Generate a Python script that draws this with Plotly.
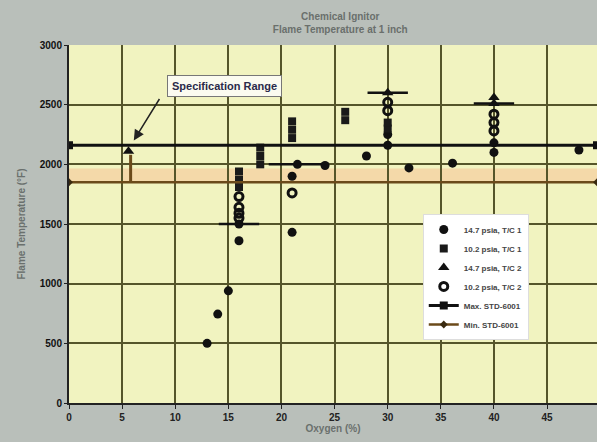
import plotly.graph_objects as go

# ---- data ----
c1_x = [13, 14, 15, 16, 16, 21, 21, 21.5, 24.1, 28, 30, 30, 32, 36.1, 40, 40, 48]
c1_y = [500, 745, 940, 1360, 1500, 1430, 1900, 2000, 1990, 2070, 2160, 2250, 1970, 2010, 2100, 2180, 2120]
c1_ex = [0, 0, 0, 0, 1.9, 0, 0, 2.7, 0, 0, 0, 0, 0, 0, 0, 0, 0]

s1_x = [16, 16, 16, 18, 18, 18, 21, 21, 21, 26, 26, 16.6, 30, 30]
s1_y = [1940, 1870, 1810, 2140, 2070, 2000, 2360, 2290, 2220, 2440, 2370, 3060, 2300, 2350]

t2_x = [5.6, 30, 40, 40]
t2_y = [2110, 2600, 2560, 2510]
t2_ex = [0, 1.9, 0, 1.9]

o2_x = [16, 16, 16, 16, 21, 30, 30, 40, 40, 40]
o2_y = [1730, 1640, 1590, 1550, 1760, 2450, 2520, 2420, 2350, 2280]

x_range = [0, 49.7]
max_std = 2160
min_std = 1850
spec_band = [1850, 1965]

x_ticks = [0, 5, 10, 15, 20, 25, 30, 35, 40, 45]
y_ticks = [0, 500, 1000, 1500, 2000, 2500, 3000]

fig = go.Figure()

fig.add_trace(go.Scatter(x=c1_x, y=c1_y, mode="markers", name="14.7 psia, T/C 1",
                         marker=dict(symbol="circle", size=9, color="#111111"),
                         error_x=dict(type="data", array=c1_ex, color="#111111", thickness=2.5, width=0),
                         cliponaxis=False))
fig.add_trace(go.Scatter(x=s1_x, y=s1_y, mode="markers", name="10.2 psia, T/C 1",
                         marker=dict(symbol="square", size=8, color="#1a1a1a"),
                         cliponaxis=False))
fig.add_trace(go.Scatter(x=t2_x, y=t2_y, mode="markers", name="14.7 psia, T/C 2",
                         marker=dict(symbol="triangle-up", size=10, color="#111111"),
                         error_x=dict(type="data", array=t2_ex, color="#111111", thickness=2.5, width=0),
                         cliponaxis=False))
fig.add_trace(go.Scatter(x=o2_x, y=o2_y, mode="markers", name="10.2 psia, T/C 2",
                         marker=dict(symbol="circle-open", size=8, color="#111111", line=dict(width=3)),
                         cliponaxis=False))
fig.add_trace(go.Scatter(x=x_range, y=[max_std, max_std], mode="lines+markers", name="Max. STD-6001",
                         line=dict(color="#111111", width=3),
                         marker=dict(symbol="square", size=8, color="#111111")))
fig.add_trace(go.Scatter(x=x_range, y=[min_std, min_std], mode="lines+markers", name="Min. STD-6001",
                         line=dict(color="#6b4a1a", width=2.5),
                         marker=dict(symbol="diamond", size=6, color="#3a2a10")))

fig.add_shape(type="rect", xref="x", yref="y", x0=x_range[0], x1=x_range[1],
              y0=spec_band[0], y1=spec_band[1], fillcolor="rgba(245,195,150,0.55)",
              line=dict(width=0), layer="below")
fig.add_shape(type="line", xref="x", yref="y", x0=5.8, x1=5.8, y0=min_std, y1=2080,
              line=dict(color="#6b4a1a", width=3))

fig.add_annotation(x=6.1, y=2200, ax=8.6, ay=2560, xref="x", yref="y", axref="x", ayref="y",
                   text="", showarrow=True, arrowhead=2, arrowsize=1.4, arrowwidth=1.5,
                   arrowcolor="#222222")
fig.add_annotation(x=14.6, y=2660, xref="x", yref="y", text="<b>Specification Range</b>",
                   showarrow=False, bgcolor="#fbfbf0", bordercolor="#777777", borderwidth=1,
                   borderpad=4, font=dict(family="Liberation Sans", size=11, color="#2a2a4a"))

fig.update_layout(
    width=597, height=442,
    paper_bgcolor="#b9bfba",
    plot_bgcolor="#f1f3c0",
    margin=dict(l=69, r=0, t=45, b=39),
    title=dict(text="Chemical Ignitor<br>Flame Temperature at 1 inch", x=0.57, xanchor="center",
               y=0.955, yanchor="top",
               font=dict(family="Liberation Sans", size=10, color="#6a6f6c", weight="bold")),
    legend=dict(x=0.67, y=0.352, xanchor="left", yanchor="middle", bgcolor="#ffffff",
                bordercolor="#dddddd", borderwidth=1, tracegroupgap=0,
                font=dict(family="Liberation Sans", size=8, color="#444444", weight="bold"),
                itemwidth=30),
    showlegend=True,
)
fig.update_xaxes(range=x_range, tickvals=x_ticks, showgrid=True, gridcolor="#55552a", gridwidth=1.5,
                 showline=True, linecolor="#222222", linewidth=2, zeroline=False,
                 ticks="outside", ticklen=4, tickcolor="#222222",
                 tickfont=dict(family="Liberation Sans", size=10, color="#222222", weight="bold"),
                 title=dict(text="Oxygen (%)", standoff=2,
                            font=dict(family="Liberation Sans", size=10, color="#6a706d", weight="bold")))
fig.update_yaxes(range=[0, 3000], tickvals=y_ticks, showgrid=True, gridcolor="#55552a", gridwidth=1.5,
                 showline=True, linecolor="#222222", linewidth=2, zeroline=False,
                 ticks="outside", ticklen=3, tickcolor="#222222",
                 tickfont=dict(family="Liberation Sans", size=10, color="#111111", weight="bold"),
                 title=dict(text="Flame Temperature (°F)", standoff=12,
                            font=dict(family="Liberation Sans", size=10, color="#6a706d", weight="bold")))

fig.write_html("out.html", config={"displayModeBar": False})

# remove the browser's default body margin so the figure sits at the window origin
with open("out.html", "r", encoding="utf-8") as f:
    html = f.read()
html = html.replace("<head>", "<head><style>html,body{margin:0;padding:0;}</style>", 1)
with open("out.html", "w", encoding="utf-8") as f:
    f.write(html)
